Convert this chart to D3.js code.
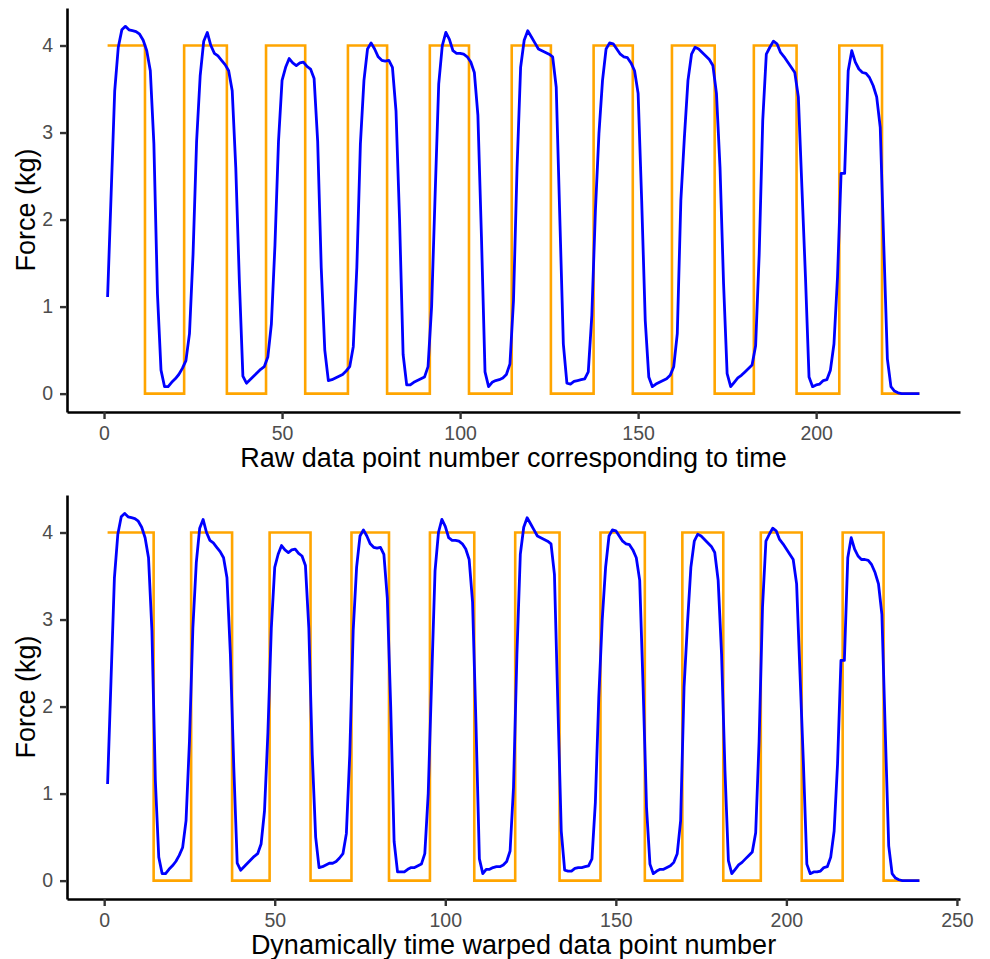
<!DOCTYPE html>
<html>
<head>
<meta charset="utf-8">
<script src="https://cdn.jsdelivr.net/npm/d3@7"></script>
<style>
  body { margin: 0; background: #fff; }
  svg text { font-family: 'Liberation Sans', Arial, sans-serif; }
</style>
</head>
<body>
<svg id="chart" width="990" height="959"></svg>
<script>
// force reading per raw data point (1..229)
const forceRaw = [
  1.11, 2.3, 3.48, 3.98, 4.18, 4.22, 4.18, 4.17, 4.16, 4.13,
  4.06, 3.94, 3.71, 2.87, 1.15, 0.27, 0.08, 0.08, 0.13, 0.17,
  0.22, 0.29, 0.38, 0.69, 1.6, 2.9, 3.65, 4.05, 4.15, 4.0,
  3.91, 3.88, 3.83, 3.78, 3.71, 3.48, 2.6, 1.3, 0.2, 0.12,
  0.16, 0.2, 0.24, 0.28, 0.31, 0.42, 0.8, 1.7, 2.9, 3.6,
  3.75, 3.85, 3.8, 3.77, 3.8, 3.81, 3.76, 3.73, 3.62, 2.9,
  1.45, 0.5, 0.15, 0.16, 0.18, 0.2, 0.22, 0.26, 0.31, 0.54,
  1.45, 2.87, 3.6, 3.96, 4.03, 3.96, 3.87, 3.83, 3.82, 3.83,
  3.75, 3.25, 2.0, 0.45, 0.1, 0.1, 0.13, 0.15, 0.17, 0.19,
  0.31, 1.0, 2.3, 3.56, 4.0, 4.15, 4.07, 3.94, 3.91, 3.91,
  3.9, 3.87, 3.81, 3.69, 3.2, 1.8, 0.25, 0.08, 0.13, 0.15,
  0.16, 0.18, 0.22, 0.34, 1.07, 2.6, 3.75, 4.06, 4.17, 4.1,
  4.03, 3.96, 3.94, 3.92, 3.9, 3.87, 3.52, 2.03, 0.57, 0.12,
  0.11, 0.14, 0.15, 0.16, 0.17, 0.25, 0.9, 2.1, 2.99, 3.6,
  3.96, 4.03, 4.02, 3.96, 3.9, 3.87, 3.86, 3.8, 3.71, 3.45,
  2.22, 0.84, 0.19, 0.08, 0.11, 0.13, 0.15, 0.17, 0.21, 0.31,
  0.69, 2.22, 2.95, 3.6, 3.9, 3.98, 3.96, 3.92, 3.88, 3.84,
  3.77, 3.45, 2.6, 1.26, 0.23, 0.08, 0.13, 0.18, 0.21, 0.25,
  0.29, 0.33, 0.55, 1.6, 3.14, 3.9, 3.98, 4.05, 4.02, 3.92,
  3.87, 3.81, 3.75, 3.69, 3.41, 2.37, 1.34, 0.19, 0.08, 0.1,
  0.11, 0.15, 0.16, 0.27, 0.57, 1.34, 2.53, 2.53, 3.71, 3.94,
  3.81, 3.73, 3.69, 3.68, 3.63, 3.54, 3.41, 3.06, 1.7, 0.4,
  0.08, 0.03, 0.01, 0, 0, 0, 0, 0, 0
];

// target square wave: [level, number of points]
const targetLevels = [4, 0, 4, 0, 4, 0, 4, 0, 4, 0, 4, 0, 4, 0, 4, 0, 4, 0, 4, 0];
const targetRunLengths = [11, 11, 12, 11, 11, 12, 11, 12, 11, 12, 11, 12, 11, 11, 12, 11, 12, 12, 12, 11];

// DTW path: raw points that are used twice in the warped series
const forceRepeats = [66, 86, 88, 109, 111, 131, 133, 156, 200, 213];
const targetRepeats = [2, 3, 4, 50, 95, 98, 118, 121, 141, 144];

const yTicks = [0, 1, 2, 3, 4];
const xTicksRaw = [0, 50, 100, 150, 200];
const xTicksWarped = [0, 50, 100, 150, 200, 250];

const targetRaw = targetLevels.flatMap((lv, k) => d3.range(targetRunLengths[k]).map(() => lv));

function warp(values, repeats) {
  let out = [];
  values.forEach((v, k) => {
    out.push(v);
    if (repeats.includes(k + 1)) out.push(v);
  });
  return out;
}

function panel(svg, opts) {
  let {force, target, top, bottom, xTicks, xTitle} = opts;
  let left = 67, right = 960;
  let n = force.length;
  let maxY = d3.max(force.concat(target));

  let x = d3.scaleLinear()
    .domain([1 - 0.05 * (n - 1), n + 0.05 * (n - 1)])
    .range([left, right]);
  let y = d3.scaleLinear()
    .domain([-0.05 * maxY, maxY * 1.05])
    .range([bottom, top]);

  let g = svg.append('g');

  let line = d3.line()
    .x((d, k) => x(k + 1))
    .y((d) => y(d));

  g.append('path')
    .attr('d', line.curve(d3.curveStep)(target))
    .attr('fill', 'none')
    .attr('stroke', 'orange')
    .attr('stroke-width', 2.6);

  g.append('path')
    .attr('d', line.curve(d3.curveLinear)(force))
    .attr('fill', 'none')
    .attr('stroke', 'blue')
    .attr('stroke-width', 2.8)
    .attr('stroke-linejoin', 'round');

  let xAxis = g.append('g')
    .attr('transform', 'translate(0,' + bottom + ')')
    .call(d3.axisBottom(x).tickValues(xTicks).tickFormat(d3.format('d'))
      .tickSize(7).tickSizeOuter(0).tickPadding(7));
  let yAxis = g.append('g')
    .attr('transform', 'translate(' + left + ',0)')
    .call(d3.axisLeft(y).tickValues(yTicks).tickFormat(d3.format('d'))
      .tickSize(7).tickSizeOuter(0).tickPadding(7));

  [xAxis, yAxis].forEach((ax) => {
    ax.select('.domain').attr('stroke', '#000').attr('stroke-width', 2.6);
    ax.selectAll('.tick line').attr('stroke', '#333').attr('stroke-width', 2.4);
    ax.selectAll('.tick text')
      .attr('fill', '#4d4d4d')
      .style('font-size', '19.5px')
      .style('font-family', "'Liberation Sans', Arial, sans-serif");
  });

  g.append('text')
    .attr('x', (left + right) / 2)
    .attr('y', bottom + 55)
    .attr('text-anchor', 'middle')
    .style('font-size', '27px')
    .text(xTitle);

  g.append('text')
    .attr('transform', 'translate(35,' + (top + bottom) / 2 + ') rotate(-90)')
    .attr('text-anchor', 'middle')
    .style('font-size', '27px')
    .text('Force (kg)');
}

const svg = d3.select('#chart');

panel(svg, {
  force: forceRaw,
  target: targetRaw,
  top: 8,
  bottom: 412,
  xTicks: xTicksRaw,
  xTitle: 'Raw data point number corresponding to time'
});

panel(svg, {
  force: warp(forceRaw, forceRepeats),
  target: warp(targetRaw, targetRepeats),
  top: 495,
  bottom: 899,
  xTicks: xTicksWarped,
  xTitle: 'Dynamically time warped data point number'
});
</script>
</body>
</html>
